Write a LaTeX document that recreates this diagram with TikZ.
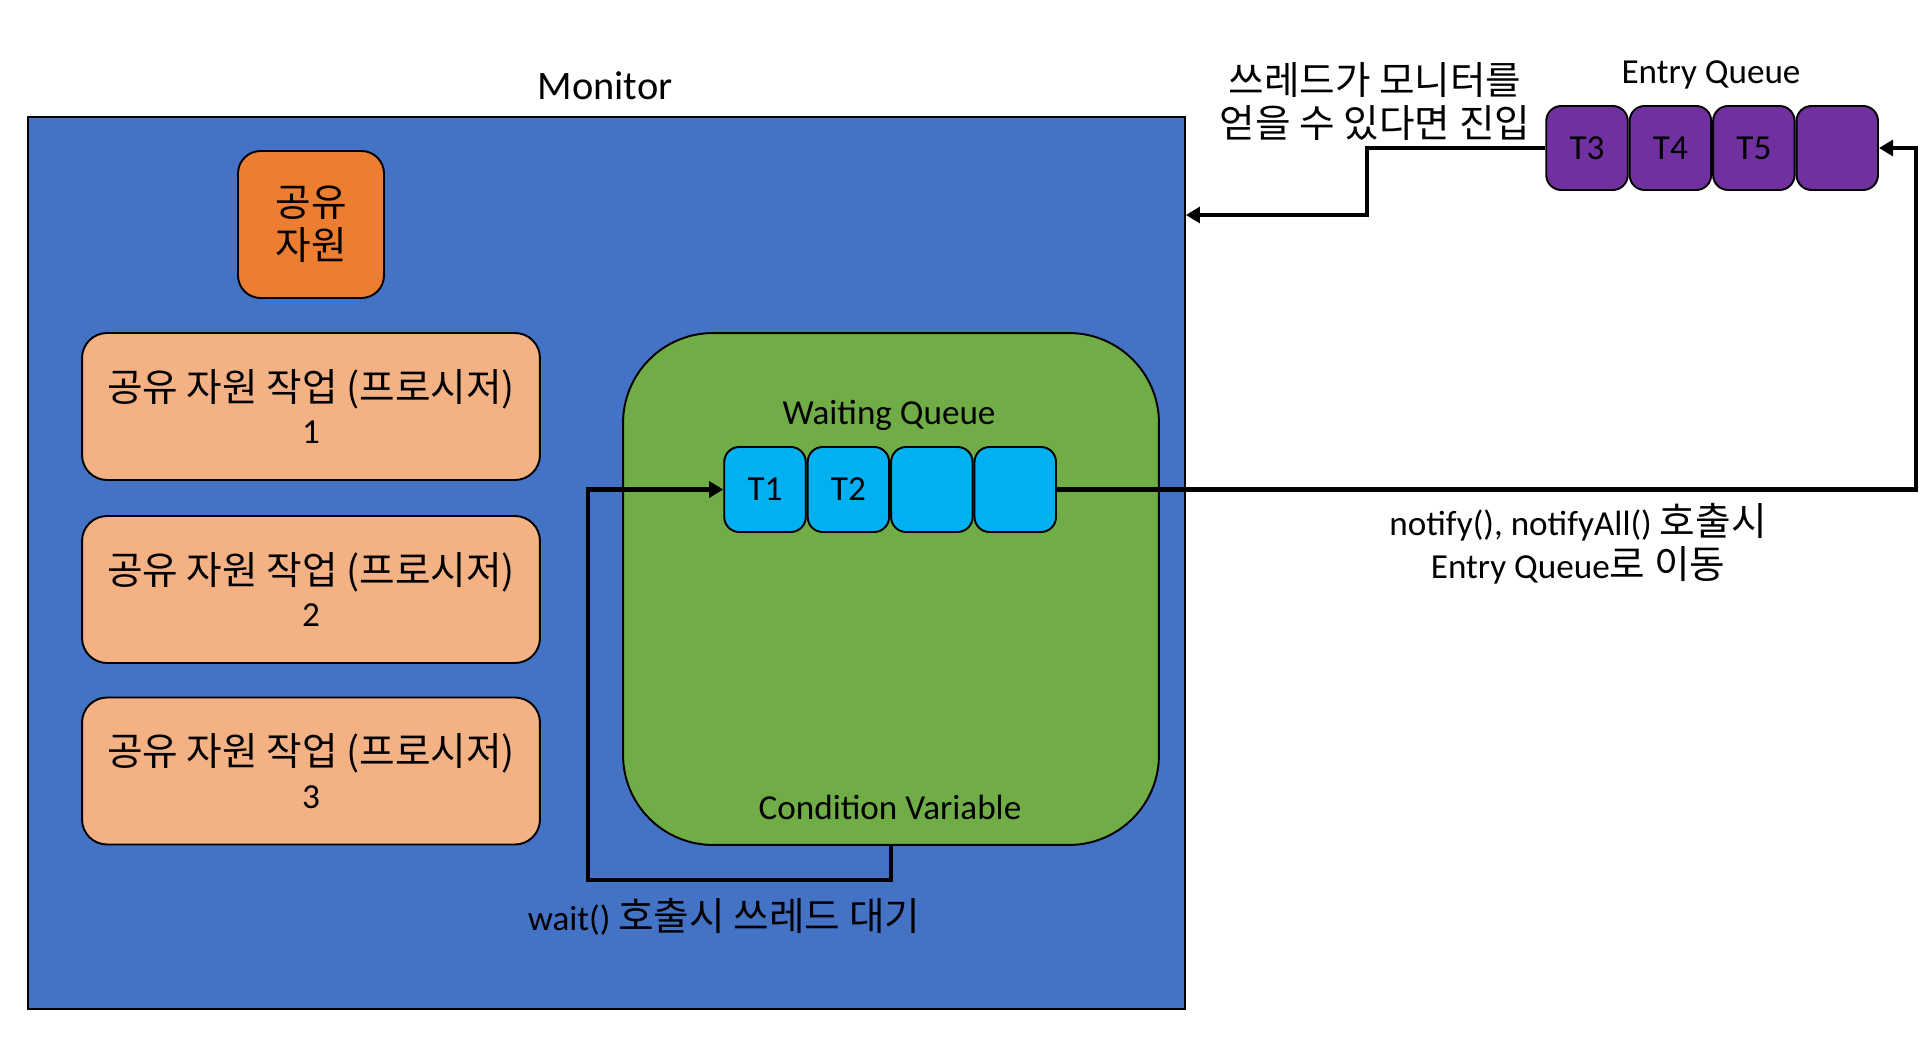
\documentclass[tikz,border=0pt]{standalone}
\usepackage{fontspec}
\setmainfont{Carlito}
\newfontfamily\kr{Noto Sans CJK KR}[Scale=1.1]
\usetikzlibrary{positioning,calc,arrows.meta}

\definecolor{monblue}{HTML}{4472C4}
\definecolor{resorange}{HTML}{ED7D31}
\definecolor{procorange}{HTML}{F4B183}
\definecolor{cvgreen}{HTML}{70AD47}
\definecolor{wqcyan}{HTML}{00B0F0}
\definecolor{eqpurple}{HTML}{7030A0}

\tikzset{
  txt/.style={font=\fontsize{20}{24.4}\selectfont, align=center, inner sep=0pt},
  roundbox/.style={txt, draw, line width=1.1pt, rounded corners=#1},
  tcell/.style={roundbox=0.3cm, minimum width=1.63cm, minimum height=1.7cm},
  conn/.style={line width=2.6pt, -{Triangle[length=8pt,width=9pt]}}
}

\begin{document}
\begin{tikzpicture}[x=0.02cm,y=-0.02cm]

\useasboundingbox[fill=white] (0,0) rectangle (1926,1050);

% monitor
\node[draw, line width=1.1pt, fill=monblue, inner sep=0pt,
      minimum width=23.14cm, minimum height=17.84cm] (monitor) at (606.5,563) {};
\node[txt, font=\fontsize{23}{27}\selectfont] (montitle) at (605,86) {Monitor};

\node[roundbox=0.45cm, fill=resorange, minimum width=2.92cm, minimum height=2.94cm]
  (res) at (311,224.5) {{\kr 공유}\\{\kr 자원}};

\node[roundbox=0.5cm, fill=procorange, minimum width=9.16cm, minimum height=2.94cm]
  (proc1) at (311,406.5) {{\kr 공유 자원 작업 (프로시저)}\\1};
\node[roundbox=0.5cm, fill=procorange, minimum width=9.16cm, minimum height=2.94cm]
  (proc2) at (311,589.5) {{\kr 공유 자원 작업 (프로시저)}\\2};
\node[roundbox=0.5cm, fill=procorange, minimum width=9.16cm, minimum height=2.94cm]
  (proc3) at (311,771) {{\kr 공유 자원 작업 (프로시저)}\\3};

% condition variable
\node[roundbox=1.8cm, fill=cvgreen, minimum width=10.72cm, minimum height=10.24cm]
  (cv) at (891,589) {};
\node[txt] (wqlabel) at (889,415) {Waiting Queue};
\node[txt] (cvlabel) at (890,807) {Condition Variable};

\node[tcell, fill=wqcyan] (q1) at (765,489.5) {T1};
\node[tcell, fill=wqcyan, right=0pt of q1] (q2) {T2};
\node[tcell, fill=wqcyan, right=0pt of q2] (q3) {};
\node[tcell, fill=wqcyan, right=0pt of q3] (q4) {};

% entry queue
\node[txt] (eqlabel) at (1711,75) {Entry Queue};
\node[tcell, fill=eqpurple, minimum height=1.68cm] (p1) at (1587,148) {T3};
\node[tcell, fill=eqpurple, minimum height=1.68cm, right=0pt of p1] (p2) {T4};
\node[tcell, fill=eqpurple, minimum height=1.68cm, right=0pt of p2] (p3) {T5};
\node[tcell, fill=eqpurple, minimum height=1.68cm, right=0pt of p3] (p4) {};

% connectors
\coordinate (waitcorner) at (588,880);
\draw[conn] (cv.south) |- (waitcorner) |- (q1.west);
\node[txt] (waitlabel) at (724,917) {wait() {\kr 호출시 쓰레드 대기}};

\coordinate (notifycorner) at (1916,489.5);
\draw[conn] (q4.east) -- (notifycorner) |- (p4.east);
\node[txt] (notifylabel) at (1578,544) {notify(), notifyAll() {\kr 호출시}\\Entry Queue{\kr 로 이동}};

\coordinate (entercorner) at (1367,215);
\draw[conn] (p1.west) -| (entercorner) -- (entercorner -| monitor.east);
\node[txt] (enterlabel) at (1375,101.5) {{\kr 쓰레드가 모니터를}\\{\kr 얻을 수 있다면 진입}};

\end{tikzpicture}
\end{document}
